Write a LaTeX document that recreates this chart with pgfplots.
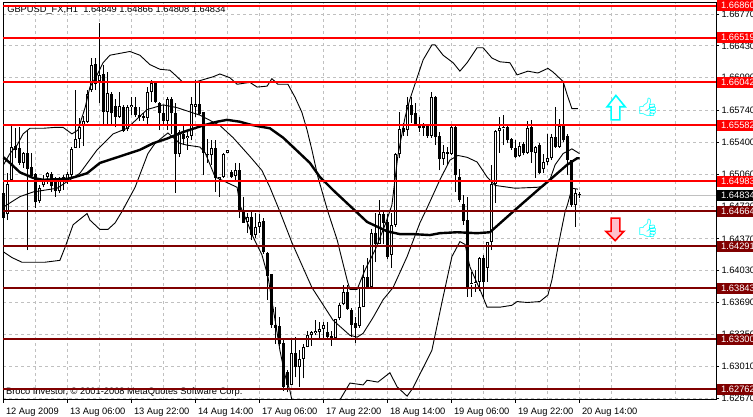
\documentclass[border=0pt]{standalone}
\usepackage{fontspec}
\setmainfont{Liberation Sans}
\newfontfamily\emojifont{Noto Emoji}
\usepackage{pgfplots}
\usepackage{pgfplotstable}
\pgfplotsset{compat=1.18}
\definecolor{gridgray}{HTML}{C0C0C0}
\definecolor{supp}{HTML}{800000}
\definecolor{resist}{HTML}{FF0000}
\definecolor{downfill}{HTML}{FFC0CB}
\definecolor{aqua}{HTML}{00FFFF}

% hourly candles, x = bar number: bar, high, body top, body bottom, low
\pgfplotstableread{
i h t b l
0 1.6486 1.6486 1.6459 1.6447
3 1.6555 1.6536 1.6532 1.6523
4 1.6556 1.6534 1.6518 1.6516
6 1.6553 1.6529 1.6512 1.6425
7 1.6529 1.6514 1.6504 1.6502
8 1.6507 1.6506 1.6476 1.6470
12 1.6508 1.6506 1.6493 1.6487
13 1.6503 1.6499 1.6488 1.6482
15 1.6505 1.6503 1.6499 1.6489
23 1.6630 1.6624 1.6602 1.6596
25 1.6623 1.6613 1.6572 1.6558
27 1.6594 1.6592 1.6571 1.6558
28 1.6586 1.6579 1.6567 1.6556
30 1.6580 1.6578 1.6552 1.6551
33 1.6588 1.6578 1.6569 1.6567
34 1.6578 1.6569 1.6567 1.6563
35 1.6571 1.6568 1.6566 1.6563
38 1.6604 1.6603 1.6583 1.6582
39 1.6583 1.6582 1.6571 1.6553
40 1.6580 1.6571 1.6563 1.6560
42 1.6588 1.6586 1.6571 1.6549
43 1.6582 1.6571 1.6528 1.6486
45 1.6558 1.6549 1.6544 1.6537
49 1.6606 1.6581 1.6570 1.6569
50 1.6572 1.6572 1.6529 1.6505
51 1.6544 1.6528 1.6526 1.6518
53 1.6542 1.6534 1.6502 1.6487
57 1.6510 1.6508 1.6503 1.6502
59 1.6518 1.6510 1.6468 1.6459
60 1.6482 1.6466 1.6454 1.6454
62 1.6466 1.6460 1.6441 1.6436
65 1.6459 1.6456 1.6423 1.6421
66 1.6423 1.6422 1.6397 1.6372
67 1.6399 1.6399 1.6345 1.6342
68 1.6364 1.6345 1.6342 1.6325
69 1.6353 1.6344 1.6325 1.6323
70 1.6329 1.6326 1.6279 1.6275
71 1.6297 1.6295 1.6281 1.6273
73 1.6332 1.6315 1.6300 1.6289
81 1.6348 1.6337 1.6332 1.6331
82 1.6339 1.6333 1.6331 1.6323
86 1.6388 1.6380 1.6362 1.6361
87 1.6363 1.6361 1.6345 1.6332
88 1.6353 1.6347 1.6342 1.6326
91 1.6417 1.6396 1.6385 1.6385
93 1.6465 1.6443 1.6431 1.6412
95 1.6466 1.6463 1.6454 1.6431
96 1.6463 1.6455 1.6418 1.6415
100 1.6561 1.6555 1.6551 1.6547
102 1.6588 1.6580 1.6569 1.6561
103 1.6582 1.6571 1.6560 1.6558
104 1.6567 1.6558 1.6555 1.6551
105 1.6561 1.6557 1.6555 1.6547
106 1.6560 1.6557 1.6547 1.6545
108 1.6589 1.6588 1.6546 1.6537
109 1.6551 1.6547 1.6522 1.6510
111 1.6535 1.6530 1.6528 1.6516
113 1.6560 1.6556 1.6505 1.6487
114 1.6512 1.6503 1.6478 1.6476
115 1.6484 1.6474 1.6456 1.6452
116 1.6482 1.6457 1.6386 1.6375
120 1.6420 1.6417 1.6391 1.6374
126 1.6558 1.6556 1.6542 1.6539
127 1.6545 1.6544 1.6534 1.6532
128 1.6542 1.6534 1.6524 1.6523
130 1.6540 1.6538 1.6529 1.6526
132 1.6564 1.6556 1.6530 1.6518
134 1.6539 1.6537 1.6507 1.6506
138 1.6578 1.6546 1.6535 1.6534
140 1.6606 1.6557 1.6542 1.6540
141 1.6549 1.6547 1.6521 1.6505
142 1.6521 1.6521 1.6473 1.6471
144 1.64866 1.64849 1.64834 1.64808
}\bear

\pgfplotstableread{
i h t b l
1 1.6507 1.6496 1.6463 1.6457
2 1.6558 1.6535 1.6500 1.6499
5 1.6530 1.6529 1.6518 1.6513
9 1.6494 1.6491 1.6477 1.6475
10 1.6505 1.6501 1.6494 1.6492
11 1.6508 1.6507 1.6503 1.6496
14 1.6503 1.6499 1.6488 1.6486
16 1.6508 1.6506 1.6500 1.6496
17 1.6535 1.6533 1.6505 1.6503
18 1.6596 1.6544 1.6534 1.6534
19 1.6566 1.6556 1.6544 1.6534
20 1.6568 1.6563 1.6557 1.6536
21 1.6596 1.6592 1.6562 1.6561
22 1.6630 1.6623 1.6596 1.6594
24 1.6667 1.6612 1.6605 1.6582
26 1.6615 1.6593 1.6572 1.6558
29 1.6594 1.6579 1.6567 1.6566
31 1.6580 1.6578 1.6554 1.6552
32 1.6588 1.6580 1.6578 1.6569
36 1.6599 1.6594 1.6566 1.6560
37 1.6607 1.6603 1.6594 1.6583
41 1.6588 1.6586 1.6563 1.6553
44 1.6553 1.6551 1.6528 1.6524
46 1.6553 1.6547 1.6545 1.6532
47 1.6588 1.6581 1.6547 1.6542
48 1.6607 1.6581 1.6578 1.6567
52 1.6542 1.6534 1.6526 1.6516
54 1.6503 1.6503 1.6501 1.6482
55 1.6529 1.6528 1.6503 1.6502
56 1.6532 1.6532 1.6529 1.6529
58 1.6518 1.6510 1.6504 1.6500
61 1.6465 1.6460 1.6455 1.6443
63 1.6465 1.6450 1.6441 1.6438
64 1.6463 1.6455 1.6450 1.6443
72 1.6329 1.6315 1.6281 1.6281
74 1.6318 1.6309 1.6300 1.6279
75 1.6325 1.6321 1.6309 1.6288
76 1.6339 1.6334 1.6322 1.6321
77 1.6339 1.6337 1.6334 1.6323
78 1.6350 1.6339 1.6336 1.6334
79 1.6348 1.6341 1.6337 1.6331
80 1.6348 1.6345 1.6341 1.6331
83 1.6351 1.6351 1.6331 1.6331
84 1.6368 1.6366 1.6352 1.6350
85 1.6388 1.6380 1.6367 1.6366
89 1.6385 1.6364 1.6344 1.6342
90 1.6409 1.6396 1.6364 1.6364
92 1.6447 1.6443 1.6386 1.6383
94 1.6478 1.6463 1.6431 1.6431
97 1.6465 1.6452 1.6420 1.6406
98 1.6529 1.6528 1.6452 1.6450
99 1.6572 1.6554 1.6528 1.6523
101 1.6588 1.6580 1.6553 1.6547
107 1.6594 1.6588 1.6547 1.6545
110 1.6537 1.6530 1.6522 1.6516
112 1.6560 1.6556 1.6528 1.6526
117 1.6402 1.6390 1.6389 1.6375
118 1.6404 1.6391 1.6390 1.6380
119 1.6418 1.6417 1.6391 1.6381
121 1.6434 1.6434 1.6406 1.6391
122 1.6516 1.6495 1.6434 1.6425
123 1.6553 1.6552 1.6495 1.6475
124 1.6567 1.6555 1.6552 1.6529
125 1.6569 1.6556 1.6555 1.6537
129 1.6540 1.6536 1.6525 1.6524
131 1.6563 1.6555 1.6529 1.6528
133 1.6536 1.6535 1.6529 1.6502
135 1.6528 1.6519 1.6511 1.6507
136 1.6549 1.6523 1.6519 1.6516
137 1.6549 1.6546 1.6523 1.6521
139 1.6565 1.6557 1.6535 1.6534
143 1.6490 1.6486 1.6473 1.6450
}\bull

% moving average, thick
\pgfplotstableread{
x y
0 1.6524
1.6 1.6518
4.1 1.6508
7.4 1.6502
9.9 1.6500
15.9 1.6501
17.9 1.6503
20.9 1.6507
24.1 1.6518
28.4 1.6524
34.1 1.6532
37.4 1.6539
40.9 1.6544
44.9 1.6551
49.9 1.6558
53.4 1.6562
55.9 1.6564
59.1 1.6562
61.6 1.6559
63.9 1.6557
66.6 1.6555
69.9 1.6545
72.4 1.6535
76.6 1.6518
79.1 1.6503
82.4 1.6489
87.4 1.6469
90.9 1.6455
95.9 1.6445
99.1 1.6442
102.4 1.6442
106.6 1.6441
109.1 1.6443
113.4 1.6444
118.4 1.6443
121.6 1.6444
127.4 1.6466
134.1 1.6491
136.6 1.6500
140.9 1.6516
143.4 1.6523
144 1.6523
}\ma

% the thin bands
\pgfplotstableread{
x y
0 1.6516
1.6 1.6528
3.4 1.6537
4.9 1.6549
6.6 1.6555
9.9 1.6555
12.9 1.6556
14.9 1.6556
17.1 1.6549
18.6 1.6553
20.4 1.6577
21.6 1.6599
23.4 1.6612
24.9 1.6625
26.6 1.6633
31.6 1.6637
34.1 1.6633
36.6 1.6623
39.1 1.6618
41.6 1.6617
43.4 1.6610
44.6 1.6605
48.4 1.6605
52.4 1.6610
54.1 1.6613
56.6 1.6609
58.4 1.6602
61.6 1.6604
63.4 1.6599
65.9 1.6600
67.1 1.6608
68.6 1.6602
71.1 1.6602
72.9 1.6588
74.6 1.6572
75.9 1.6553
77.1 1.6532
78.6 1.6503
81.1 1.6466
83.4 1.6436
85.9 1.6393
86.6 1.6383
88.4 1.6383
90.4 1.6404
92.9 1.6425
95.4 1.6452
97.1 1.6473
98.6 1.6526
100.4 1.6567
101.6 1.6586
103.4 1.6609
104.9 1.6628
107.1 1.6644
107.9 1.6644
109.9 1.6633
112.4 1.6625
114.1 1.6616
115.9 1.6625
118.4 1.6641
119.9 1.6641
122.1 1.6630
124.1 1.6626
126.6 1.6625
128.4 1.6612
131.1 1.6616
133.6 1.6614
136.1 1.6619
137.4 1.6615
139.9 1.6605
140.9 1.6591
142.1 1.6576
143.6 1.6576
}\bandA

\pgfplotstableread{
x y
0 1.6471
4.1 1.6482
7.4 1.6487
13.4 1.6491
16.6 1.6500
19.1 1.6507
23.4 1.6532
27.4 1.6549
30.9 1.6555
35.9 1.6575
39.9 1.6580
43.4 1.6577
49.1 1.6569
54.1 1.6558
57.4 1.6545
61.6 1.6525
64.6 1.6510
66.6 1.6492
69.1 1.6466
72.1 1.6433
77.1 1.6385
82.4 1.6350
86.6 1.6334
88.4 1.6332
89.9 1.6336
92.4 1.6353
94.9 1.6372
97.4 1.6385
100.9 1.6418
104.1 1.6454
105.9 1.6470
109.1 1.6500
111.6 1.6521
113.6 1.6526
115.9 1.6524
118.4 1.6519
120.9 1.6503
122.9 1.6494
127.9 1.6491
133.4 1.6492
134.9 1.6493
136.6 1.6500
137.9 1.6516
139.9 1.6528
142.1 1.6533
144 1.6528
}\bandB

\pgfplotstableread{
x y
0 1.6423
2.1 1.6417
4.6 1.6412
10.4 1.6412
14.1 1.6414
15.4 1.6428
17.4 1.6452
20.9 1.6464
21.6 1.6457
24.1 1.6447
26.1 1.6447
27.9 1.6454
29.6 1.6466
32.9 1.6492
36.1 1.6528
37.9 1.6539
41.1 1.6550
44.1 1.6539
45.9 1.6537
49.1 1.6535
50.4 1.6529
52.9 1.6503
55.4 1.6498
58.4 1.6492
59.1 1.6473
60.9 1.6455
62.4 1.6439
64.6 1.6420
66.1 1.6397
67.9 1.6350
69.1 1.6318
70.4 1.6291
71.6 1.6275
72.1 1.6265
}\bandC

\pgfplotstableread{
x y
84.1 1.6265
86.6 1.6283
89.9 1.6281
90.9 1.6286
93.6 1.6284
96.6 1.6294
98.4 1.6279
100.9 1.6269
102.4 1.6278
107.1 1.6318
109.6 1.6369
112.1 1.6418
114.1 1.6434
115.4 1.6431
116.6 1.6407
119.1 1.6383
120.9 1.6364
124.1 1.6364
127.1 1.6366
128.4 1.6370
130.9 1.6369
134.1 1.6370
136.1 1.6377
137.1 1.6393
138.6 1.6428
140.4 1.6466
141.1 1.6475
142.1 1.6491
143.6 1.6490
}\bandCb

\pgfplotstableread{
x y label
178.125 1.66860 1.66860
178.125 1.66519 1.66519
178.125 1.66042 1.66042
178.125 1.65582 1.65582
178.125 1.64983 1.64983
}\resisttags

\pgfplotstableread{
x y label
178.125 1.64664 1.64664
178.125 1.64291 1.64291
178.125 1.63843 1.63843
178.125 1.63300 1.63300
178.125 1.62762 1.62762
}\supptags

\pgfplotstableread{
x y label
178.125 1.64834 1.64834
}\lasttag

\pgfplotsset{
  wick/.style={draw=none, no markers, forget plot,
    error bars/.cd, y dir=plus, y explicit, error mark=none,
    error bar style={black, line width=1pt}},
  body/.style={draw=none, no markers, forget plot,
    error bars/.cd, y dir=plus, y explicit, error mark=none,
    error bar style={black, line width=3pt}},
  hollow/.style={draw=none, no markers, forget plot,
    error bars/.cd, y dir=plus, y explicit, error mark=none,
    error bar style={white, line width=1pt, shorten >=1pt, shorten <=1pt}},
  band/.style={black, line width=0.9pt, no markers, forget plot},
  level/.style={line width=2pt, no markers, forget plot},
  tag/.style={draw=none, no markers, forget plot, point meta=explicit symbolic,
    nodes near coords,
    nodes near coords style={anchor=west, xshift=1pt, inner xsep=4pt, inner ysep=0pt,
      text width=36pt, align=left, minimum height=11pt, font=\fontsize{9.3}{11}\selectfont,
      text=white, fill=#1}},
}

\begin{document}
\begin{tikzpicture}
\path[use as bounding box] (-3pt,-17pt) rectangle (750pt,400pt);
\begin{axis}[
  scale only axis,
  width=713pt, height=397.5pt,
  xmin=-0.125, xmax=178.125,
  ymin=1.62649, ymax=1.66893,
  clip=false,
  axis line style={black, line width=1pt},
  tick align=outside,
  xtick pos=bottom,
  ytick pos=right,
  yticklabel pos=right,
  major tick length=3pt,
  minor tick length=0pt,
  tick style={black, line width=1pt},
  xtick={0,16,...,144},
  minor xtick={8,24,...,176},
  xticklabels={12 Aug 2009,13 Aug 06:00,13 Aug 22:00,14 Aug 14:00,17 Aug 06:00,17 Aug 22:00,18 Aug 14:00,19 Aug 06:00,19 Aug 22:00,20 Aug 14:00},
  ytick={1.6267,1.6301,1.6335,1.6369,1.6403,1.6437,1.6472,1.6506,1.6540,1.6574,1.6609,1.6643,1.6677},
  xmajorgrids, xminorgrids, ymajorgrids,
  major grid style={gridgray, line width=1pt, dash pattern=on 3pt off 3pt},
  minor grid style={gridgray, line width=1pt, dash pattern=on 3pt off 3pt},
  x tick label style={anchor=north west, xshift=-1pt, yshift=-1pt, font=\fontsize{9.3}{11}\selectfont},
  y tick label style={anchor=west, xshift=-1pt, font=\fontsize{9.3}{11}\selectfont},
  /pgf/number format/.cd, fixed, fixed zerofill, precision=5, assume math mode=true,
]
% last price line
\addplot[gridgray, line width=1pt, no markers, forget plot] coordinates {(-0.125,1.64834) (178.125,1.64834)};

% candles
\addplot[wick] table[x=i, y=l, y error plus expr=\thisrow{h}-\thisrow{l}] {\bear};
\addplot[wick] table[x=i, y=l, y error plus expr=\thisrow{h}-\thisrow{l}] {\bull};
\addplot[body] table[x=i, y=b, y error plus expr=\thisrow{t}-\thisrow{b}] {\bear};
\addplot[body] table[x=i, y=b, y error plus expr=\thisrow{t}-\thisrow{b}] {\bull};
\addplot[hollow] table[x=i, y=b, y error plus expr=\thisrow{t}-\thisrow{b}] {\bull};

% bands and average
\addplot[band] table {\bandA};
\addplot[band] table {\bandB};
\addplot[band] table {\bandC};
\addplot[band] table {\bandCb};
\addplot[black, line width=2.4pt, no markers, forget plot] table {\ma};

% arrows
\addplot[aqua, line width=1.6pt, fill=white, no markers, forget plot] coordinates {
  (153.1,1.6590) (150.9,1.6578) (151.9,1.6578) (151.9,1.6564) (154.1,1.6564) (154.1,1.6578) (155.4,1.6578)} -- cycle;
\addplot[resist, line width=1.6pt, fill=downfill, no markers, forget plot] coordinates {
  (151.9,1.6459) (154.1,1.6459) (154.1,1.6445) (155.1,1.6445) (152.9,1.6435) (150.6,1.6445) (151.9,1.6445)} -- cycle;
\node[text=aqua, font=\emojifont\fontsize{18}{18}\selectfont, inner sep=0pt] at (axis cs:161.1,1.6577) {\char"1F44D};
\node[text=aqua, font=\emojifont\fontsize{18}{18}\selectfont, inner sep=0pt] at (axis cs:161.1,1.6448) {\char"1F44D};

% chart captions
\node[anchor=west, inner sep=0pt, font=\fontsize{9.3}{11}\selectfont] at (axis cs:0.9,1.66813) {GBPUSD\_FX,H1\ \ 1.64849 1.64866 1.64808 1.64834};
\node[anchor=west, inner sep=0pt, font=\fontsize{9.3}{11}\selectfont] at (axis cs:0.6,1.6273) {Broco Investor, © 2001-2008 MetaQuotes Software Corp.};

% support and resistance levels
\addplot[level, resist] coordinates {(-0.125,1.66860) (178.125,1.66860)};
\addplot[level, resist] coordinates {(-0.125,1.66519) (178.125,1.66519)};
\addplot[level, resist] coordinates {(-0.125,1.66042) (178.125,1.66042)};
\addplot[level, resist] coordinates {(-0.125,1.65582) (178.125,1.65582)};
\addplot[level, resist] coordinates {(-0.125,1.64983) (178.125,1.64983)};
\addplot[level, supp] coordinates {(-0.125,1.64664) (178.125,1.64664)};
\addplot[level, supp] coordinates {(-0.125,1.64291) (178.125,1.64291)};
\addplot[level, supp] coordinates {(-0.125,1.63843) (178.125,1.63843)};
\addplot[level, supp] coordinates {(-0.125,1.63300) (178.125,1.63300)};
\addplot[level, supp] coordinates {(-0.125,1.62762) (178.125,1.62762)};

% price tags on the right
\addplot[tag=resist] table[x=x, y=y, meta=label] {\resisttags};
\addplot[tag=supp] table[x=x, y=y, meta=label] {\supptags};
\addplot[tag=black] table[x=x, y=y, meta=label] {\lasttag};
\end{axis}
\end{tikzpicture}
\end{document}
